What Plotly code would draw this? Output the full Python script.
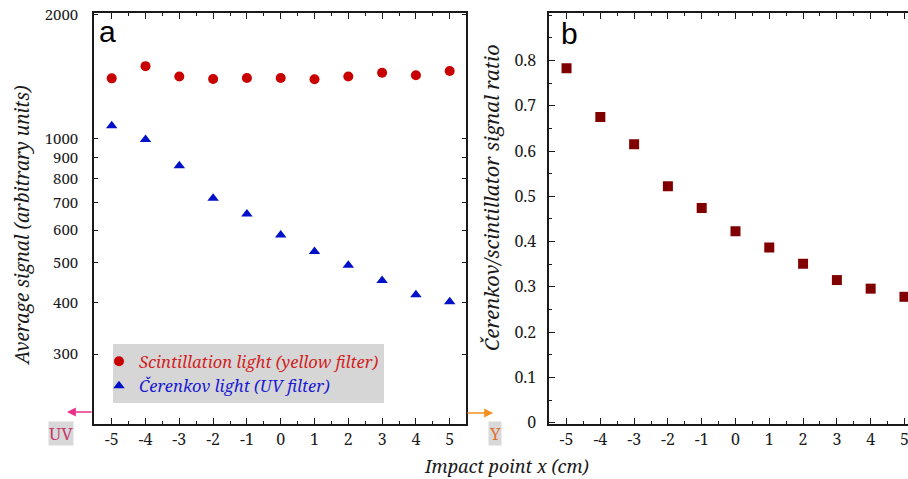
import math
import plotly.graph_objects as go

# Impact point positions along the module (cm)
impact_x = [-5, -4, -3, -2, -1, 0, 1, 2, 3, 4, 5]

# Average signals (arbitrary units)
scint_signal = [1403, 1502, 1418, 1398, 1406, 1406, 1396, 1418, 1448, 1427, 1462]
cerenkov_signal = [1077, 996, 861, 718, 657, 584, 533, 493, 453, 418, 402]

# Čerenkov / scintillator signal ratio
signal_ratio = [0.783, 0.675, 0.615, 0.522, 0.474, 0.423, 0.387, 0.351, 0.315, 0.296, 0.278]

# Tick values / labels
x_ticks = [-5, -4, -3, -2, -1, 0, 1, 2, 3, 4, 5]
x_labels = ["-5", "-4", "-3", "-2", "-1", "0", "1", "2", "3", "4", "5"]
sig_ticks = [300, 400, 500, 600, 700, 800, 900, 1000, 2000]
sig_labels = ["300", "400", "500", "600", "700", "800", "900", "1000", "2000"]
ratio_ticks = [0, 0.1, 0.2, 0.3, 0.4, 0.5, 0.6, 0.7, 0.8]
ratio_labels = ["0", "0.1", "0.2", "0.3", "0.4", "0.5", "0.6", "0.7", "0.8"]

W, H = 908, 479
SERIF = "Noto Serif"
SANS = "Liberation Sans"
INK = "#1a1a1a"


def px(x):
    return x / W


def py(y):
    return 1 - y / H


fig = go.Figure()

fig.add_trace(go.Scatter(
    x=impact_x, y=scint_signal, mode="markers",
    marker=dict(symbol="circle", size=10, color="#c80000"),
    name='<span style="color:#d21e1e"><i>Scintillation light (yellow filter)</i></span>',
    xaxis="x", yaxis="y",
))
fig.add_trace(go.Scatter(
    x=impact_x, y=cerenkov_signal, mode="markers",
    marker=dict(symbol="triangle-up", size=10, color="#0010c8"),
    name='<span style="color:#1a1ad2"><i>Čerenkov light (UV filter)</i></span>',
    xaxis="x", yaxis="y",
))
fig.add_trace(go.Scatter(
    x=impact_x, y=signal_ratio, mode="markers",
    marker=dict(symbol="square", size=10, color="#800000"),
    showlegend=False, xaxis="x2", yaxis="y2",
))

tickfont = dict(family=SERIF, size=16, color=INK)
common_x = dict(
    tickmode="array", tickvals=x_ticks, ticktext=x_labels, ticks="inside",
    ticklen=6, tickwidth=1.3, tickcolor=INK, showline=True, linewidth=1.6,
    linecolor=INK, showgrid=False, zeroline=False, tickfont=tickfont,
    ticklabelstandoff=0, ticklabeloverflow="allow", mirror="ticks",
    automargin=False,
    minor=dict(tickmode="linear", tick0=-5.5, dtick=0.5, ticks="inside",
               ticklen=3, tickwidth=1.3, tickcolor=INK),
)

ydom = [py(424), py(13)]

fig.update_layout(
    template="none",
    width=W, height=H,
    margin=dict(l=0, r=0, t=0, b=0, pad=0, autoexpand=False),
    font=dict(family=SERIF, color=INK),
    paper_bgcolor="white", plot_bgcolor="white",
    xaxis=dict(domain=[px(94), px(466)], range=[-5.524, 5.482], anchor="y", **common_x),
    yaxis=dict(domain=ydom, type="log", range=[math.log10(203), math.log10(2022)],
               tickmode="array", tickvals=sig_ticks, ticktext=sig_labels,
               ticks="inside", ticklen=4, tickwidth=1.3, tickcolor=INK,
               showline=True, linewidth=1.6, linecolor=INK, mirror="ticks",
               showgrid=False, zeroline=False,
               tickfont=dict(family=SERIF, size=15, color=INK),
               ticklabelstandoff=11, anchor="x", automargin=False),
    # panel b runs past the right edge of the page, so no right-hand border
    xaxis2=dict(domain=[px(549.3), 1], range=[-5.51, 5.105], anchor="y2", **common_x),
    yaxis2=dict(domain=ydom, range=[-0.003, 0.905], tickmode="array",
                tickvals=ratio_ticks, ticktext=ratio_labels, ticks="inside",
                ticklen=6, tickwidth=1.3, tickcolor=INK, showline=True,
                linewidth=1.6, linecolor=INK, mirror=False, showgrid=False,
                zeroline=False, tickfont=tickfont, ticklabelstandoff=8,
                anchor="x2", automargin=False,
                minor=dict(tickmode="linear", tick0=0, dtick=0.05, ticks="inside",
                           ticklen=3, tickwidth=1.3, tickcolor=INK)),
    legend=dict(x=px(113), y=py(344), xanchor="left", yanchor="top",
                bgcolor="#d6d6d6", borderwidth=0, itemwidth=30,
                font=dict(family=SERIF, size=16.5, color=INK),
                tracegroupgap=0, indentation=-14),
    showlegend=True,
)


def label(text, x, y, size, family=SERIF, color=INK, angle=0, **kw):
    return dict(text=text, x=px(x), y=py(y), xref="paper", yref="paper",
                xanchor="center", yanchor="middle", textangle=angle,
                showarrow=False, font=dict(family=family, size=size, color=color), **kw)


ann = [
    # panel letters
    label("a", 107, 31, 30, family=SANS, color="black"),
    label("b", 569, 34, 30, family=SANS, color="black"),
    # axis titles
    label("<i>Average signal (arbitrary units)</i>", 22, 226, 19, angle=-90),
    label("<i>Čerenkov/scintillator signal ratio</i>", 491, 198, 20, angle=-90),
    label("<i>Impact point x (cm)</i>", 506, 466, 18),
    # filter direction tags
    label("UV", 61, 433, 17, color="#c23a6a", bgcolor="#d8d8d8", borderpad=0),
    label("Y", 495, 433, 17, color="#e07030", bgcolor="#d8d8d8", borderpad=0),
    # filter direction arrows
    dict(text="", x=px(67), y=py(412), ax=26, ay=0, xref="paper", yref="paper",
         showarrow=True, arrowhead=2, arrowsize=1.1, arrowwidth=1.6,
         arrowcolor="#e8308a"),
    dict(text="", x=px(493), y=py(413), ax=-27, ay=0, xref="paper", yref="paper",
         showarrow=True, arrowhead=2, arrowsize=1.1, arrowwidth=1.6,
         arrowcolor="#f39020"),
]
fig.update_layout(annotations=ann)

fig.write_html("out.html")
